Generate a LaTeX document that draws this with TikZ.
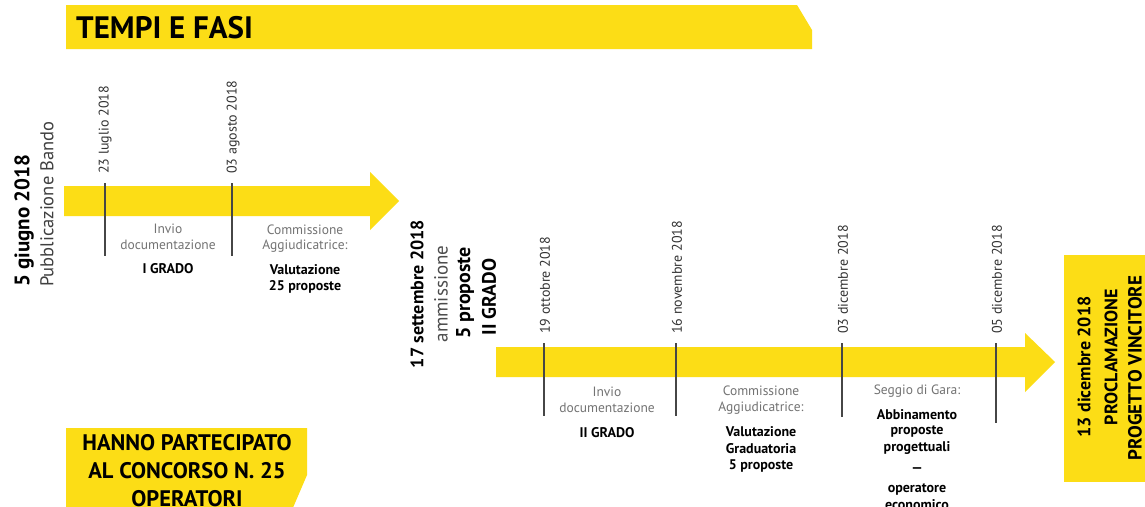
\documentclass[tikz,border=0pt]{standalone}
\usepackage{fontspec}
\setmainfont{PT Sans}
\definecolor{ylw}{RGB}{252,221,22}
\definecolor{tickc}{RGB}{70,70,70}
\definecolor{lgray}{RGB}{115,115,115}
\begin{document}
\begin{tikzpicture}[x=1pt,y=-1pt,
  band/.style={fill=ylw,draw=none},
  tk/.style={draw=tickc,line width=1.8pt},
  datel/.style={rotate=90,anchor=west,inner sep=0pt,font=\fontsize{14}{14}\selectfont,text=black!80},
  lbl/.style={inner sep=0pt,font=\fontsize{13.5}{13.5}\selectfont,text=lgray},
  blbl/.style={inner sep=0pt,font=\fontsize{14}{14}\selectfont\bfseries,text=black},
  big/.style={rotate=90,inner sep=0pt,font=\fontsize{19}{19}\selectfont},
  bigb/.style={big,font=\fontsize{#1}{#1}\selectfont\bfseries},
  bigb/.default=19,
  capb/.style={inner sep=0pt,font=\fontsize{22.5}{22.5}\selectfont\bfseries},
]
\useasboundingbox (0,0) rectangle (1145,506);
\clip (0,0) rectangle (1145,506);
\fill[white] (0,0) rectangle (1145,506);

% title banner
\fill[band] (66,5) -- (797,5) -- (812,30) -- (812,49) -- (66,49) -- cycle;
\node[anchor=west,inner sep=0pt,font=\fontsize{31}{31}\selectfont\bfseries] (title) at (76,28) {TEMPI E FASI};

% first arrow
\fill[band] (64,186) -- (370,186) -- (370,172) -- (399,201) -- (370,230) -- (370,216) -- (64,216) -- cycle;
\coordinate (t1a) at (105,183); \coordinate (t1b) at (105,256);
\coordinate (t2a) at (232,183); \coordinate (t2b) at (232,256);
\draw[tk] (t1a) -- (t1b);
\draw[tk] (t2a) -- (t2b);
\node[datel] (d1) at (105,174) {23 luglio 2018};
\node[datel] (d2) at (233,174) {03 agosto 2018};

\node[lbl] (l1a) at (168,229) {Invio};
\node[lbl] (l1b) at (168,245) {documentazione};
\node[blbl] (l1c) at (168,269) {I GRADO};
\node[lbl] (l2a) at (305,230) {Commissione};
\node[lbl] (l2b) at (305,246) {Aggiudicatrice:};
\node[blbl] (l2c) at (305,270) {Valutazione};
\node[blbl] (l2d) at (305,287) {25 proposte};

% left start
\node[bigb=21,anchor=west] (s1) at (24,287) {5 giugno 2018};
\node[big,anchor=west,font=\fontsize{18.5}{18.5}\selectfont,text=black!75] (s2) at (47,287) {Pubblicazione Bando};

% middle
\node[bigb=18] (m1) at (417,294) {17 settembre 2018};
\node[big,text=black!70] (m2) at (441,294) {ammissione};
\node[bigb=20] (m3) at (465,293) {5 proposte};
\node[bigb=19.5] (m4) at (489,297) {II GRADO};

% second arrow
\fill[band] (496,347) -- (1025,347) -- (1025,333) -- (1055,362) -- (1025,392) -- (1025,377) -- (496,377) -- cycle;
\coordinate (u1a) at (544,343); \coordinate (u1b) at (544,416);
\coordinate (u2a) at (676,343); \coordinate (u2b) at (676,416);
\coordinate (u3a) at (842,343); \coordinate (u3b) at (842,417);
\coordinate (u4a) at (996,343); \coordinate (u4b) at (996,423);
\draw[tk] (u1a) -- (u1b);
\draw[tk] (u2a) -- (u2b);
\draw[tk] (u3a) -- (u3b);
\draw[tk] (u4a) -- (u4b);
\node[datel] (e1) at (545,334) {19 ottobre 2018};
\node[datel] (e2) at (677,334) {16 novembre 2018};
\node[datel] (e3) at (843,334) {03 dicembre 2018};
\node[datel] (e4) at (997,334) {05 dicembre 2018};

\node[lbl] (n1a) at (607,392) {Invio};
\node[lbl] (n1b) at (607,408) {documentazione};
\node[blbl] (n1c) at (607,433) {II GRADO};
\node[lbl] (n2a) at (761,391) {Commissione};
\node[lbl] (n2b) at (761,408) {Aggiudicatrice:};
\node[blbl] (n2c) at (761,432) {Valutazione};
\node[blbl] (n2d) at (761,449) {Graduatoria};
\node[blbl] (n2e) at (761,466) {5 proposte};
\node[lbl] (n3a) at (917,391) {Seggio di Gara:};
\node[blbl] (n3b) at (917,415) {Abbinamento};
\node[blbl] (n3c) at (917,431) {proposte};
\node[blbl] (n3d) at (917,448) {progettuali};
\node[blbl] (n3e) at (917,470) {---};
\node[blbl] (n3f) at (917,489) {operatore};
\node[blbl] (n3g) at (917,505) {economico};

% final box
\fill[band] (1064,255) rectangle (1150,482);
\node[bigb=18] (f1) at (1084,367) {13 dicembre 2018};
\node[bigb=18] (f2) at (1111,357) {PROCLAMAZIONE};
\node[bigb=19] (f3) at (1135,368) {PROGETTO VINCITORE};

% bottom-left box
\fill[band] (66,428) -- (307,428) -- (307,475) -- (292,510) -- (66,510) -- cycle;
\node[capb] (p1) at (187,443) {HANNO PARTECIPATO};
\node[capb] (p2) at (187,471) {AL CONCORSO N. 25};
\node[capb] (p3) at (187,499) {OPERATORI};
\end{tikzpicture}
\end{document}
